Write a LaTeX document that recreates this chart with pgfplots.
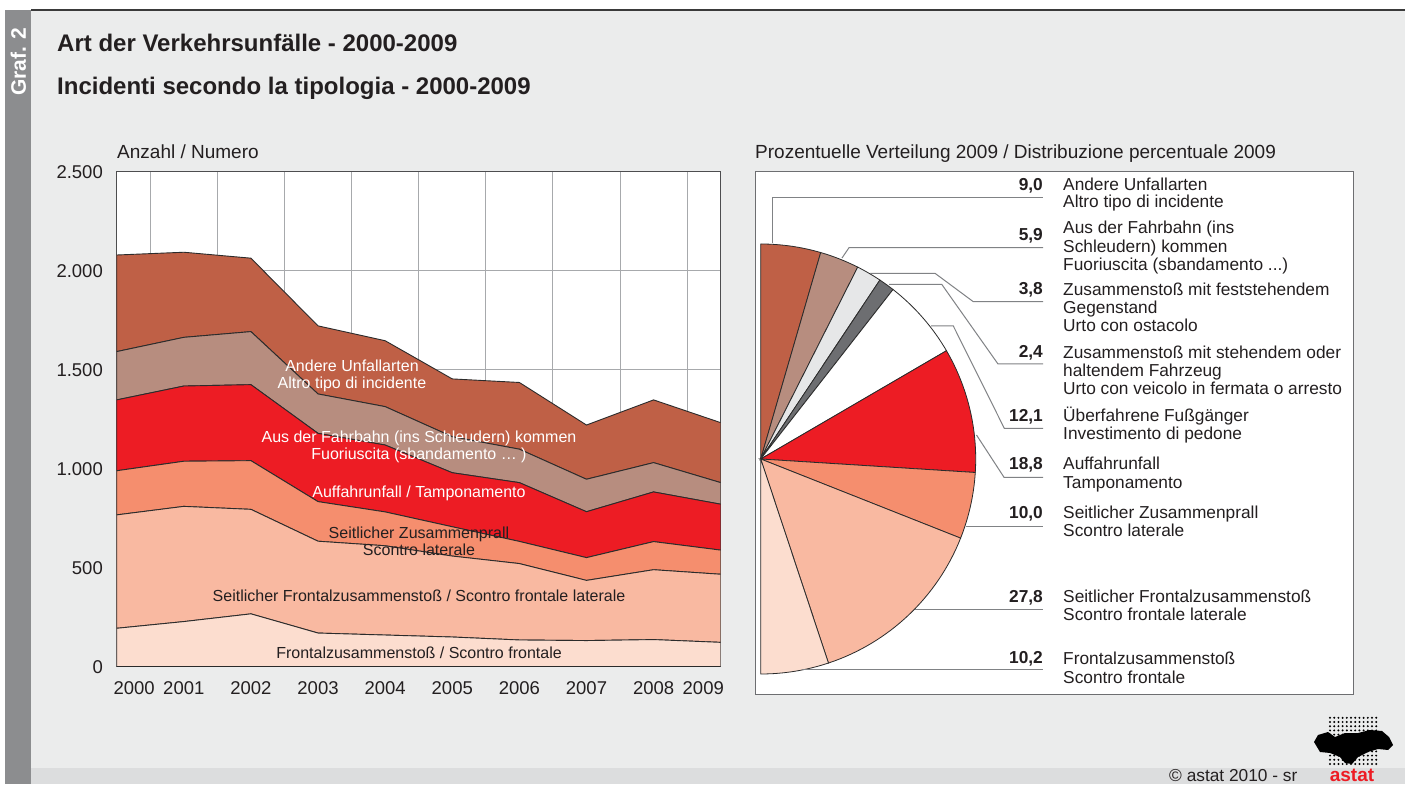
\documentclass[border=0pt]{standalone}
\usepackage{fontspec}
\setmainfont{Liberation Sans}
\usepackage{pgfplots}
\usepackage{pgfplotstable}
\pgfplotsset{compat=1.18}
\definecolor{bgc}{HTML}{EBECEC}
\definecolor{bandc}{HTML}{8C8D8F}
\definecolor{stripc}{HTML}{DCDDDE}
\definecolor{topc}{HTML}{3A3A3A}
\definecolor{txt}{HTML}{231F20}
\definecolor{gridc}{HTML}{A7A9AC}
\definecolor{axisc}{HTML}{4D4D4F}
\definecolor{edgec}{HTML}{2B2B2B}
\definecolor{framec}{HTML}{6D6E71}
\definecolor{leadc}{HTML}{808285}
\definecolor{cAn}{HTML}{BF6046}
\definecolor{cAb}{HTML}{B78D7F}
\definecolor{cAu}{HTML}{ED1C24}
\definecolor{cSz}{HTML}{F58E6E}
\definecolor{cSf}{HTML}{F9B9A1}
\definecolor{cFr}{HTML}{FCDDCF}
\definecolor{cLg}{HTML}{E6E7E8}
\definecolor{cDg}{HTML}{6D6E71}
\newcommand\fT{\fontsize{24bp}{27bp}\selectfont\bfseries}
\newcommand\fA{\fontsize{19bp}{21bp}\selectfont}
\newcommand\fTk{\fontsize{18.5bp}{21bp}\selectfont}
\newcommand\fP{\fontsize{17.3bp}{18bp}\selectfont}
\newcommand\fPb{\fontsize{17.3bp}{18bp}\selectfont\bfseries}
\newcommand\fI{\fontsize{16bp}{17bp}\selectfont}
\newcommand\fG{\fontsize{21bp}{24bp}\selectfont\bfseries}
\pgfplotstableread{
x fr sf sz au ab an
0 193 573 223 358 244 488
1 227 582 228 380 246 430
2 266 528 246 384 268 371
3 169 464 200 345 199 344
4 159 451 171 338 194 333
5 149 409 148 273 182 292
6 134 386 112 297 169 337
7 131 304 115 232 164 274
8 136 353 142 251 148 317
9 122 344 122 232 109 303
}\areadata
% pie shares 2009 (percent)
\def\pA{9.0}\def\pB{5.9}\def\pC{3.8}\def\pD{2.4}\def\pE{12.1}
\def\pF{18.8}\def\pG{10.0}\def\pH{27.8}\def\pI{10.2}
\pgfmathsetmacro\aA{90-1.8*\pA}
\pgfmathsetmacro\aB{\aA-1.8*\pB}
\pgfmathsetmacro\aC{\aB-1.8*\pC}
\pgfmathsetmacro\aD{\aC-1.8*\pD}
\pgfmathsetmacro\aE{\aD-1.8*\pE}
\pgfmathsetmacro\aF{\aE-1.8*\pF}
\pgfmathsetmacro\aG{\aF-1.8*\pG}
\pgfmathsetmacro\aH{\aG-1.8*\pH}
\pgfmathsetmacro\aI{\aH-1.8*\pI}
\begin{document}
\begin{tikzpicture}[x=1bp,y=1bp,every node/.style={inner sep=0pt}]
\path[use as bounding box] (0,0) rectangle (1405,784);
\fill[white] (0,0) rectangle (1405,784);
\fill[bandc] (5,0) rectangle (31,774);
\fill[bgc] (31,0) rectangle (1405,774);
\fill[stripc] (31,0) rectangle (1405,16);
\draw[topc, line width=1.5bp] (31,774.2) -- (1405,774.2);
\node[rotate=90, text=white, font=\fG] at (18.4,722.3) {Graf. 2};
\node[anchor=base west, font=\fT, text=txt] at (57,732.4) {Art der Verkehrsunfälle - 2000-2009};
\node[anchor=base west, font=\fT, text=txt] at (57,689) {Incidenti secondo la tipologia - 2000-2009};
\node[anchor=base west, font=\fA, text=txt] at (117,625.3) {Anzahl / Numero};
\node[anchor=base west, font=\fA, text=txt] at (755,625.3) {Prozentuelle Verteilung 2009 / Distribuzione percentuale 2009};
% pie frame
\filldraw[fill=white, draw=framec, line width=1bp] (755,89) rectangle (1353,612);

\begin{axis}[at={(116.7bp,117.5bp)}, anchor=south west,
  width=604bp, height=494.8bp, scale only axis,
  xmin=0, xmax=9, ymin=0, ymax=2500,
  stack plots=y,
  axis background/.style={fill=white},
  xtick={0.26,1,2,3,4,5,6,7,8,8.74},
  xticklabels={2000,2001,2002,2003,2004,2005,2006,2007,2008,2009},
  extra x ticks={0.5,1.5,2.5,3.5,4.5,5.5,6.5,7.5,8.5},
  extra x tick labels={},
  extra x tick style={grid=major},
  ytick={0,500,1000,1500,2000,2500},
  yticklabels={0,500,1.000,1.500,2.000,2.500},
  ymajorgrids,
  major tick length=0pt,
  grid style={gridc, line width=1bp},
  axis line style={axisc, line width=1bp},
  xticklabel style={font=\fTk, text=txt, anchor=base, inner sep=0pt, yshift=-28bp},
  yticklabel style={font=\fTk, text=txt, anchor=base east, inner sep=0pt, xshift=-13.7bp, yshift=-6.6bp},
  every axis plot/.append style={no markers, draw=edgec, line width=0.9bp},
]
\addplot[fill=cFr] table[x=x,y=fr]{\areadata} \closedcycle;
\addplot[fill=cSf] table[x=x,y=sf]{\areadata} \closedcycle;
\addplot[fill=cSz] table[x=x,y=sz]{\areadata} \closedcycle;
\addplot[fill=cAu] table[x=x,y=au]{\areadata} \closedcycle;
\addplot[fill=cAb] table[x=x,y=ab]{\areadata} \closedcycle;
\addplot[fill=cAn] table[x=x,y=an]{\areadata} \closedcycle;
\draw[axisc, line width=1bp] (rel axis cs:0,0) rectangle (rel axis cs:1,1);
\end{axis}
% area labels
\begin{scope}[every node/.style={anchor=base, font=\fI, inner sep=0pt}]
\node[text=white] at (352,412.2) {Andere Unfallarten};
\node[text=white] at (352,395.2) {Altro tipo di incidente};
\node[text=white] at (419,341.2) {Aus der Fahrbahn (ins Schleudern) kommen};
\node[text=white] at (419,324.2) {Fuoriuscita (sbandamento … )};
\node[text=white] at (419,286.5) {Auffahrunfall / Tamponamento};
\node[text=txt] at (419,245.5) {Seitlicher Zusammenprall};
\node[text=txt] at (419,228.2) {Scontro laterale};
\node[text=txt] at (419,182.5) {Seitlicher Frontalzusammenstoß / Scontro frontale laterale};
\node[text=txt] at (419,125.5) {Frontalzusammenstoß / Scontro frontale};
\end{scope}

\begin{axis}[at={(545.7bp,110bp)}, anchor=south west,
  width=430bp, height=430bp, scale only axis, hide axis, clip=false,
  xmin=-1, xmax=1, ymin=-1, ymax=1]
\filldraw[fill=cAn, draw=edgec, line width=0.8bp] (axis cs:0,0) -- ++(90:215bp) arc[start angle=90, end angle=\aA, radius=215bp] -- cycle;
\filldraw[fill=cAb, draw=edgec, line width=0.8bp] (axis cs:0,0) -- ++(\aA:215bp) arc[start angle=\aA, end angle=\aB, radius=215bp] -- cycle;
\filldraw[fill=cLg, draw=edgec, line width=0.8bp] (axis cs:0,0) -- ++(\aB:215bp) arc[start angle=\aB, end angle=\aC, radius=215bp] -- cycle;
\filldraw[fill=cDg, draw=edgec, line width=0.8bp] (axis cs:0,0) -- ++(\aC:215bp) arc[start angle=\aC, end angle=\aD, radius=215bp] -- cycle;
\filldraw[fill=white, draw=edgec, line width=0.8bp] (axis cs:0,0) -- ++(\aD:215bp) arc[start angle=\aD, end angle=\aE, radius=215bp] -- cycle;
\filldraw[fill=cAu, draw=edgec, line width=0.8bp] (axis cs:0,0) -- ++(\aE:215bp) arc[start angle=\aE, end angle=\aF, radius=215bp] -- cycle;
\filldraw[fill=cSz, draw=edgec, line width=0.8bp] (axis cs:0,0) -- ++(\aF:215bp) arc[start angle=\aF, end angle=\aG, radius=215bp] -- cycle;
\filldraw[fill=cSf, draw=edgec, line width=0.8bp] (axis cs:0,0) -- ++(\aG:215bp) arc[start angle=\aG, end angle=\aH, radius=215bp] -- cycle;
\filldraw[fill=cFr, draw=edgec, line width=0.8bp] (axis cs:0,0) -- ++(\aH:215bp) arc[start angle=\aH, end angle=\aI, radius=215bp] -- cycle;
\end{axis}

% leader lines
\begin{scope}[draw=leadc, line width=1bp]
\draw (772.3,540.7) -- (772.3,586.7) -- (1043,586.7);
\draw (842,526) -- (849,536.3) -- (1043,536.3);
\draw (870,510.7) -- (935,510.7) -- (973.3,482.3) -- (1043,482.3);
\draw (889,499.7) -- (941.7,499.7) -- (998,420) -- (1043,420);
\draw (931,458) -- (953.3,458) -- (1004.3,355.7) -- (1043,355.7);
\draw (976.5,349) -- (1004,306.7) -- (1043,306.7);
\draw (966.4,257.3) -- (1043,257.3);
\draw (914.7,174.7) -- (1043,174.7);
\draw (802,114) -- (1043,114);
\end{scope}
% pie numbers
\begin{scope}[every node/.style={anchor=base east, font=\fPb, text=txt, inner sep=0pt}]
\node at (1043,593.8) {9,0};
\node at (1043,543.8) {5,9};
\node at (1043,489.1) {3,8};
\node at (1043,426.8) {2,4};
\node at (1043,362.1) {12,1};
\node at (1043,314.5) {18,8};
\node at (1043,265.8) {10,0};
\node at (1043,181.8) {27,8};
\node at (1043,120.1) {10,2};
\end{scope}
% pie labels
\begin{scope}[every node/.style={anchor=base west, font=\fP, text=txt, inner sep=0pt}]
\node at (1063,593.8) {Andere Unfallarten};
\node at (1063,576.8) {Altro tipo di incidente};
\node at (1063,550.5) {Aus der Fahrbahn (ins};
\node at (1063,531.1) {Schleudern) kommen};
\node at (1063,513.5) {Fuoriuscita (sbandamento ...)};
\node at (1063,488.8) {Zusammenstoß mit feststehendem};
\node at (1063,470.8) {Gegenstand};
\node at (1063,452.8) {Urto con ostacolo};
\node at (1063,425.8) {Zusammenstoß mit stehendem oder};
\node at (1063,407.8) {haltendem Fahrzeug};
\node at (1063,389.8) {Urto con veicolo in fermata o arresto};
\node at (1063,362.8) {Überfahrene Fußgänger};
\node at (1063,344.8) {Investimento di pedone};
\node at (1063,314.8) {Auffahrunfall};
\node at (1063,295.8) {Tamponamento};
\node at (1063,265.8) {Seitlicher Zusammenprall};
\node at (1063,247.8) {Scontro laterale};
\node at (1063,181.8) {Seitlicher Frontalzusammenstoß};
\node at (1063,163.8) {Scontro frontale laterale};
\node at (1063,119.8) {Frontalzusammenstoß};
\node at (1063,100.8) {Scontro frontale};
\end{scope}
% footer and logo
\node[anchor=base west, font=\fP, text=txt] at (1169,2.5) {© astat 2010 - sr};
\fill[black] (1314,42) -- (1318,49) -- (1328,52) -- (1335,47) -- (1345,51) -- (1358,51) -- (1370,54) -- (1382,53) -- (1389,47) -- (1393,39) -- (1388,34) -- (1378,35) -- (1368,32) -- (1358,27) -- (1352,20) -- (1345,21) -- (1340,27) -- (1330,31) -- (1320,32) -- cycle;
\foreach \i in {0,...,11}{\foreach \j in {0,...,11}{\fill[black] ({1330+4.2*\i},{20+4.2*\j}) circle (1.1);}}
\node[anchor=base, font=\fontsize{19bp}{21bp}\selectfont\bfseries, text=cAu] at (1352,3) {astat};
\end{tikzpicture}
\end{document}
